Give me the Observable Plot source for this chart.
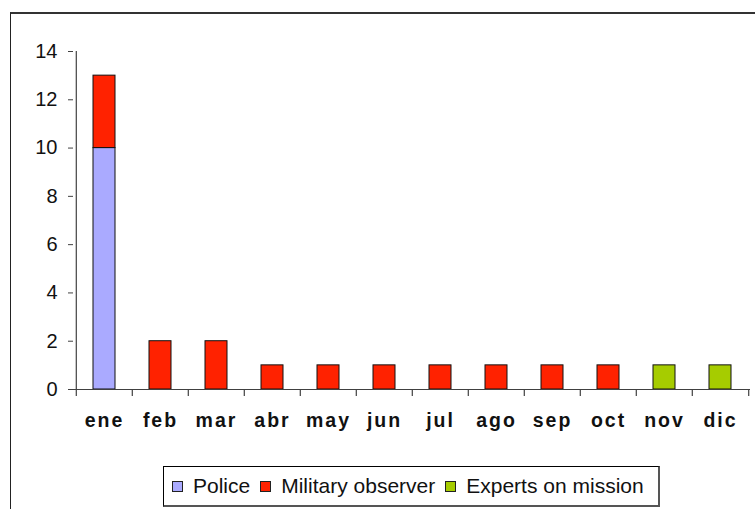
<!DOCTYPE html>
<html>
<head>
<meta charset="utf-8">
<script src="https://cdn.jsdelivr.net/npm/d3@7"></script>
<script src="https://cdn.jsdelivr.net/npm/@observablehq/plot@0.6"></script>
<style>
  html, body { margin: 0; padding: 0; background: #fff; }
  body { width: 755px; height: 509px; position: relative; overflow: hidden; font-family: "Liberation Sans", Arial, sans-serif; }
  #frame { position: absolute; left: 10px; top: 12px; width: 800px; height: 600px; border-left: 1.5px solid #222; border-top: 2px solid #333; }
  #chart { position: absolute; left: 0; top: 0; }
  #chart svg g[aria-label="text"] text { letter-spacing: 2px; }
  #legend { position: absolute; left: 163px; top: 466px; width: 486px; height: 38px; border: 1px solid #000; border-right: 2px solid #555; border-bottom: 2px solid #555;
    display: flex; align-items: center; padding-left: 8px; box-sizing: content-box; font-size: 21px; color: #111; }
  #legend .item { display: flex; align-items: center; margin-right: 10px; }
  #legend .sw { width: 9px; height: 9px; border: 1px solid #222; margin-right: 10px; }
</style>
</head>
<body>
<div id="frame"></div>
<div id="chart"></div>
<div id="legend"></div>
<script>
const months = ["ene","feb","mar","abr","may","jun","jul","ago","sep","oct","nov","dic"];
const police   = [10,0,0,0,0,0,0,0,0,0,0,0];
const military = [3,2,2,1,1,1,1,1,1,1,0,0];
const experts  = [0,0,0,0,0,0,0,0,0,0,1,1];
const seriesNames = ["Police","Military observer","Experts on mission"];
const seriesColors = ["#aaaaff","#ff2200","#a6cc00"];
const yTicks = [0,2,4,6,8,10,12,14];

const seriesValues = [police, military, experts];
const data = [];
seriesNames.forEach((s, i) => {
  months.forEach((m, j) => {
    if (seriesValues[i][j] > 0) data.push({month: m, series: s, value: seriesValues[i][j]});
  });
});

const W = 755, H = 509, mL = 73, mR = 5, mT = 51, mB = 120;
const step = (W - mL - mR) / months.length;
const pxPerUnit = (H - mT - mB) / (yTicks[yTicks.length - 1] - yTicks[0]);
const tickLen = 7 / pxPerUnit;
const axisColor = "#404040";

const chart = Plot.plot({
  width: W, height: H,
  marginLeft: mL, marginRight: mR, marginTop: mT, marginBottom: mB,
  style: {fontFamily: "'Liberation Sans', Arial, sans-serif", background: "transparent", overflow: "visible"},
  x: {domain: months, paddingInner: 0.61, paddingOuter: 0.305, axis: null},
  y: {domain: [0, 14], axis: null},
  color: {domain: seriesNames, range: seriesColors},
  marks: [
    Plot.barY(data, {x: "month", y: "value", fill: "series", stroke: "#111", strokeWidth: 1}),
    Plot.ruleY([0], {stroke: axisColor, strokeWidth: 1.2}),
    Plot.ruleX([months[0]], {dx: -step / 2, y1: 0, y2: 14, stroke: axisColor, strokeWidth: 1.2}),
    Plot.ruleX(months, {x: d => d, dx: -step / 2, y1: 0, y2: -tickLen, stroke: axisColor, strokeWidth: 1.2}),
    Plot.ruleX([months[months.length - 1]], {dx: step / 2, y1: 0, y2: -tickLen, stroke: axisColor, strokeWidth: 1.2}),
    Plot.axisY(yTicks, {tickSize: 5, tickPadding: 11, fontSize: 20, label: null, stroke: axisColor, fill: "#111"}),
    Plot.text(months, {x: d => d, y: () => 0, dy: 24, lineAnchor: "top", fontSize: 19.5, fontWeight: "bold", fill: "#111"})
  ]
});
document.getElementById("chart").appendChild(chart);

const legend = document.getElementById("legend");
seriesNames.forEach((s, i) => {
  const item = document.createElement("div");
  item.className = "item";
  const sw = document.createElement("div");
  sw.className = "sw";
  sw.style.background = seriesColors[i];
  const t = document.createElement("span");
  t.textContent = s;
  item.appendChild(sw);
  item.appendChild(t);
  legend.appendChild(item);
});
</script>
</body>
</html>
